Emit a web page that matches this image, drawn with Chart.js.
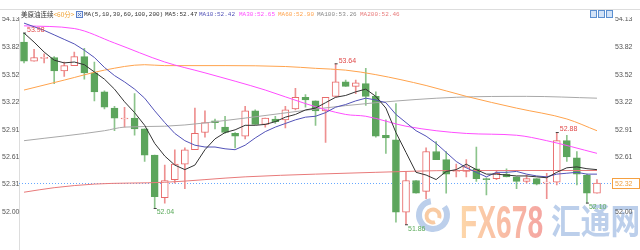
<!DOCTYPE html>
<html>
<head>
<meta charset="utf-8">
<script src="https://cdn.jsdelivr.net/npm/chart.js@4.4.0/dist/chart.umd.min.js"></script>
<style>
html, body { margin: 0; padding: 0; background: #fff; }
#wrap { width: 640px; height: 250px; }
</style>
</head>
<body>
<div id="wrap"><canvas id="kline" width="640" height="250"></canvas></div>
<script>
// 60 minute candles, oldest first
const openP  = [53.88,53.67,53.70,53.71,53.56,53.62,53.72,53.54,53.33,53.15,
                53.03,53.04,52.92,52.63,52.16,52.36,52.53,52.69,52.88,53.01,
                52.94,52.87,52.84,53.12,52.97,53.03,53.02,53.14,53.27,53.23,
                53.12,53.28,53.44,53.39,53.42,53.28,52.85,52.80,52.00,52.35,
                52.23,52.67,52.58,52.45,52.45,52.48,52.37,52.37,52.42,52.39,
                52.34,52.37,52.32,52.33,52.79,52.60,52.41,52.21];
const highP  = [53.98,53.80,53.75,53.72,53.66,53.77,53.81,53.66,53.34,53.17,
                53.16,53.31,52.92,52.63,52.52,52.69,52.71,53.15,53.12,53.03,
                53.06,52.88,53.17,53.13,53.04,53.06,53.17,53.37,53.30,53.23,
                53.27,53.64,53.46,53.46,53.59,53.33,53.02,53.20,52.45,52.35,
                52.71,52.78,52.67,52.53,52.58,52.72,52.38,52.45,52.48,52.39,
                52.41,52.37,52.43,52.88,52.85,52.67,52.42,52.36];
const lowP   = [53.65,53.67,53.65,53.42,53.50,53.62,53.47,53.23,53.14,52.90,
                52.94,52.85,52.56,52.04,52.10,52.32,52.26,52.69,52.83,52.92,
                52.87,52.71,52.81,52.97,52.94,52.98,52.93,53.13,53.16,52.96,
                52.77,53.27,53.39,53.31,53.18,52.83,52.65,51.89,51.86,52.21,
                52.15,52.58,52.21,52.39,52.39,52.34,52.19,52.36,52.39,52.26,
                52.32,52.30,52.15,52.30,52.56,52.30,52.10,52.21];
const closeP = [53.67,53.71,53.71,53.56,53.62,53.72,53.54,53.33,53.16,53.04,
                53.04,52.92,52.63,52.17,52.35,52.53,52.69,52.87,52.99,52.99,
                52.88,52.84,53.12,52.97,53.04,53.00,53.13,53.27,53.24,53.12,
                53.27,53.44,53.39,53.43,53.28,52.84,52.82,52.00,52.35,52.21,
                52.67,52.58,52.42,52.46,52.50,52.37,52.36,52.43,52.39,52.34,
                52.37,52.31,52.33,52.79,52.61,52.42,52.21,52.32];

// moving averages
const ma5  = [53.98,53.88,53.77,53.68,53.65,53.66,53.63,53.55,53.47,53.36,
              53.22,53.10,52.96,52.76,52.62,52.52,52.47,52.52,52.69,52.81,
              52.88,52.91,52.96,52.96,52.97,53.00,53.05,53.08,53.13,53.15,
              53.21,53.27,53.29,53.33,53.36,53.28,53.15,52.88,52.66,52.44,
              52.41,52.36,52.45,52.47,52.53,52.47,52.42,52.42,52.41,52.40,
              52.40,52.39,52.38,52.44,52.49,52.50,52.48,52.47];
const ma10 = [54.09,54.05,54.01,53.96,53.91,53.86,53.79,53.71,53.60,53.51,
              53.44,53.36,53.26,53.12,52.99,52.87,52.79,52.74,52.72,52.72,
              52.70,52.69,52.74,52.82,52.89,52.94,52.98,53.02,53.05,53.06,
              53.10,53.16,53.19,53.23,53.26,53.24,53.21,53.08,52.99,52.90,
              52.84,52.76,52.66,52.56,52.49,52.44,52.39,52.44,52.44,52.45,
              52.42,52.40,52.39,52.42,52.43,52.44,52.42,52.42];
// the slow averages are read at a few candles only
const ma30Idx  = [0,5,9,14,18,24,28,32,34,38,44,49,52,57];
const ma30Val  = [54.06,54.03,53.87,53.66,53.54,53.35,53.20,53.08,53.06,52.95,52.87,52.85,52.79,52.65];
const ma60Idx  = [0,4,8,12,14,20,26,29,32,35,40,44,49,54,57];
const ma60Val  = [53.35,53.46,53.57,53.63,53.62,53.62,53.61,53.59,53.57,53.52,53.40,53.28,53.15,53.03,52.90];
const ma100Idx = [0,8,10,14,22,29,35,43,50,57];
const ma100Val = [52.79,52.90,52.94,52.95,53.04,53.14,53.21,53.27,53.28,53.26];
const ma200Idx = [0,3,7,14,22,29,35,43,57];
const ma200Val = [52.22,52.27,52.31,52.33,52.39,52.42,52.44,52.46,52.46];

const yTicks = [54.13, 53.82, 53.52, 53.22, 52.91, 52.61, 52.31, 52.00];
const lastPrice = 52.32;
const maNames  = ['MA5', 'MA10', 'MA30', 'MA60', 'MA100', 'MA200'];
const maLast   = ['52.47', '52.42', '52.65', '52.90', '53.26', '52.46'];
const maColors = ['#333333', '#5252b8', '#ff4dff', '#ffa34d', '#a8a8a8', '#e87a7a'];
// labelled extremes: candle index, high or low
const highMarks = [0, 31, 53];
const lowMarks  = [13, 38, 56];

const UP = '#e86a6a', DOWN = '#5ca55c';
const isUp = i => closeP[i] >= openP[i];
const labels = closeP.map((_, i) => i);
const sparse = (idx, val) => idx.map((i, k) => ({ x: i, y: val[k] }));

function maLine(k, data, smooth) {
    return {
        type: 'line', label: maNames[k], data: data,
        borderColor: maColors[k], borderWidth: 1, pointRadius: 0,
        spanGaps: true, order: 1,
        cubicInterpolationMode: smooth ? 'monotone' : 'default', tension: 0
    };
}

const decor = {
    id: 'decor',
    beforeDatasetsDraw(chart) {
        const { ctx, chartArea: a, scales: { y } } = chart;
        ctx.save();
        // frame
        ctx.strokeStyle = '#dddddd';
        ctx.lineWidth = 1;
        ctx.beginPath();
        ctx.moveTo(0, 9.5); ctx.lineTo(640, 9.5);
        ctx.moveTo(a.left + 0.5, a.top - 2); ctx.lineTo(a.left + 0.5, 250);
        ctx.stroke();

        // watermark logo
        ctx.lineWidth = 6;
        ctx.strokeStyle = '#bccfeb';
        ctx.beginPath(); ctx.arc(433, 215, 14, -0.2 * Math.PI, 1.45 * Math.PI); ctx.stroke();
        ctx.strokeStyle = '#f9cba3';
        ctx.lineWidth = 4;
        ctx.beginPath(); ctx.arc(433, 216, 6.5, 0.4 * Math.PI, 2.1 * Math.PI); ctx.stroke();

        ctx.save();
        ctx.translate(460, 238);
        ctx.scale(0.6, 1);
        const g = ctx.createLinearGradient(0, 0, 135, 0);
        g.addColorStop(0, '#fdd7a9');
        g.addColorStop(1, '#f5a7a2');
        ctx.fillStyle = g;
        ctx.font = 'bold 47px "Liberation Sans"';
        ctx.textBaseline = 'alphabetic';
        ctx.fillText('FX678', 0, 0);
        ctx.restore();

        ctx.save();
        ctx.translate(551, 221);
        ctx.scale(0.85, 1);
        ctx.fillStyle = '#bccfeb';
        ctx.font = 'bold 35px "Noto Sans CJK SC"';
        ctx.textBaseline = 'middle';
        ctx.fillText('汇通网', 0, 0);
        ctx.restore();

        // last price dotted line
        const py = Math.round(y.getPixelForValue(lastPrice)) + 0.5;
        ctx.strokeStyle = '#66a8ff';
        ctx.lineWidth = 1;
        ctx.setLineDash([1, 2]);
        ctx.beginPath(); ctx.moveTo(a.left, py); ctx.lineTo(612, py); ctx.stroke();
        ctx.restore();
    },
    afterDraw(chart) {
        const { ctx, scales: { x, y } } = chart;
        ctx.save();
        ctx.textBaseline = 'middle';

        // axis labels on both sides
        ctx.font = '7px "Liberation Sans"';
        ctx.fillStyle = '#555555';
        yTicks.forEach(v => {
            const py = y.getPixelForValue(v);
            ctx.fillText(v.toFixed(2), 2, py);
            ctx.fillText(v.toFixed(2), 615, py);
        });

        // last price box
        const lp = y.getPixelForValue(lastPrice);
        ctx.fillStyle = '#ffffff';
        ctx.fillRect(612, lp - 4.5, 28, 10);
        ctx.strokeStyle = '#f5a040';
        ctx.strokeRect(612.5, Math.round(lp) - 4.5, 27, 10);
        ctx.fillStyle = '#f0a040';
        ctx.fillText(lastPrice.toFixed(2), 615, lp + 0.5);

        // extreme marks
        highMarks.forEach(i => {
            const px = x.getPixelForValue(i), py = y.getPixelForValue(highP[i]);
            ctx.fillStyle = '#444444';
            ctx.fillRect(px - 1, py - 0.5, 3, 1);
            ctx.fillStyle = '#e04848';
            ctx.fillText(highP[i].toFixed(2), px + 3, py - 3);
        });
        lowMarks.forEach(i => {
            const px = x.getPixelForValue(i), py = y.getPixelForValue(lowP[i]);
            ctx.fillStyle = '#444444';
            ctx.fillRect(px - 1, py - 0.5, 3, 1);
            ctx.fillStyle = '#5aaa5a';
            ctx.fillText(lowP[i].toFixed(2), px + 2, py + 4);
        });

        // header
        ctx.fillStyle = '#ffffff';
        ctx.fillRect(0, 10, 640, 7);
        ctx.font = '6.5px "Noto Sans CJK SC"';
        ctx.fillStyle = '#333333';
        ctx.fillText('美原油连续', 21, 14.5);
        ctx.fillStyle = '#f0a030';
        ctx.fillText('<60分>', 21 + ctx.measureText('美原油连续').width, 14.5);

        ctx.strokeStyle = '#5b7fc8';
        ctx.fillStyle = '#e6ecf8';
        ctx.fillRect(76.5, 11.5, 6, 6);
        ctx.strokeRect(76.5, 11.5, 6, 6);
        ctx.beginPath();
        ctx.moveTo(78, 13); ctx.lineTo(81, 16); ctx.moveTo(81, 13); ctx.lineTo(78, 16);
        ctx.stroke();

        ctx.font = '6px "Liberation Mono"';
        ctx.fillStyle = '#333333';
        ctx.fillText('MA(5,10,30,60,100,200)', 84, 14.5);
        const legendX = [165, 199, 239, 278, 317, 360];
        maNames.forEach((nm, k) => {
            ctx.fillStyle = maColors[k] === '#a8a8a8' ? '#888888' : maColors[k];
            ctx.fillText(nm + ':' + maLast[k], legendX[k], 14.5);
        });

        // toolbar buttons
        [590, 598, 606].forEach(bx => {
            ctx.fillStyle = '#d3e3f7';
            ctx.fillRect(bx + 0.5, 10.5, 6, 7);
            ctx.strokeStyle = '#5b8fd0';
            ctx.strokeRect(bx + 0.5, 10.5, 6, 7);
        });
        ctx.restore();
    }
};

new Chart(document.getElementById('kline'), {
    type: 'bar',
    data: {
        labels: labels,
        datasets: [
            maLine(0, ma5, false),
            maLine(1, ma10, false),
            maLine(2, sparse(ma30Idx, ma30Val), true),
            maLine(3, sparse(ma60Idx, ma60Val), true),
            maLine(4, sparse(ma100Idx, ma100Val), true),
            maLine(5, sparse(ma200Idx, ma200Val), true),
            {
                label: 'body',
                data: openP.map((o, i) => [o, closeP[i]]),
                grouped: false, barThickness: 7, minBarLength: 1,
                backgroundColor: c => isUp(c.dataIndex) ? '#ffffff' : DOWN,
                borderColor: c => isUp(c.dataIndex) ? UP : DOWN,
                borderWidth: 1, borderSkipped: false, order: 2
            },
            {
                label: 'wick',
                data: lowP.map((l, i) => [l, highP[i]]),
                grouped: false, barThickness: 1,
                backgroundColor: c => isUp(c.dataIndex) ? '#ee9090' : '#8cc48c',
                order: 3
            }
        ]
    },
    options: {
        responsive: false,
        animation: false,
        layout: { padding: { left: 19, right: 38, top: 19.5, bottom: 8.5 } },
        plugins: { legend: { display: false }, tooltip: { enabled: false } },
        scales: {
            x: { display: false },
            y: { display: false, min: 51.675, max: 54.13 }
        }
    },
    plugins: [decor]
});
</script>
</body>
</html>
